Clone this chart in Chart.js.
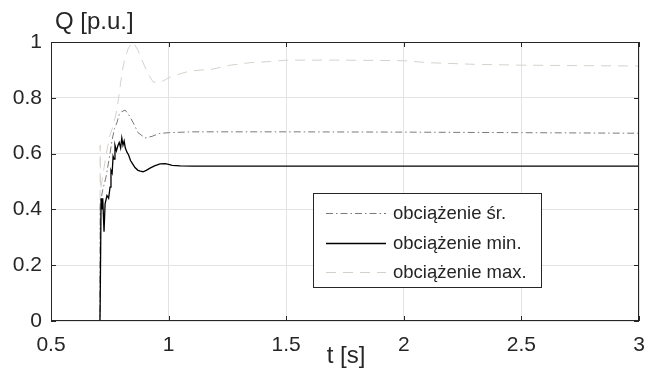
<!DOCTYPE html>
<html>
<head>
<meta charset="utf-8">
<script src="https://cdn.jsdelivr.net/npm/chart.js@4/dist/chart.umd.min.js"></script>
<style>
  html, body { margin: 0; padding: 0; background: #fff; }
  #wrap { width: 646px; height: 371px; }
</style>
</head>
<body>
<div id="wrap"><canvas id="my-chart" width="646" height="371"></canvas></div>
<script>
// axis ticks
var xTickValues = [0.5, 1, 1.5, 2, 2.5, 3];
var yTickValues = [0, 0.2, 0.4, 0.6, 0.8, 1];

// obciążenie min. (solid black)
var tMin = [0.5, 0.708, 0.709, 0.713, 0.716, 0.72, 0.7255, 0.73, 0.738, 0.745, 0.751, 0.755, 0.76, 0.764, 0.768, 0.772,
  0.778, 0.785, 0.79, 0.796, 0.801, 0.806, 0.811, 0.816, 0.823, 0.83, 0.838, 0.845, 0.857, 0.87, 0.88, 0.891,
  0.905, 0.921, 0.94, 0.964, 0.985, 1.0, 1.015, 1.05, 1.1, 1.5, 2.0, 2.5, 3.0];
var qMin = [0, 0, 0.05, 0.44, 0.40, 0.44, 0.32, 0.42, 0.45, 0.44, 0.48, 0.54, 0.53, 0.59, 0.58, 0.63,
  0.61, 0.63, 0.64, 0.62, 0.656, 0.63, 0.645, 0.62, 0.605, 0.595, 0.575, 0.566, 0.55, 0.54, 0.537, 0.535,
  0.54, 0.548, 0.556, 0.563, 0.564, 0.561, 0.558, 0.556, 0.555, 0.555, 0.555, 0.555, 0.555];

// obciążenie śr. (dash-dot grey)
var tAvg = [0.5, 0.708, 0.709, 0.72, 0.735, 0.745, 0.751, 0.76, 0.77, 0.78, 0.79, 0.8, 0.815, 0.83, 0.85, 0.87,
  0.9, 0.93, 0.96, 1.0, 1.1, 1.5, 2.0, 2.5, 3.0];
var qAvg = [0, 0, 0.42, 0.47, 0.52, 0.57, 0.60, 0.65, 0.69, 0.71, 0.74, 0.75, 0.756, 0.74, 0.71, 0.675,
  0.656, 0.662, 0.672, 0.675, 0.678, 0.678, 0.677, 0.675, 0.673];

// obciążenie max. (dashed light)
var tMax = [0.5, 0.708, 0.709, 0.711, 0.72, 0.735, 0.751, 0.765, 0.781, 0.802, 0.815, 0.83, 0.849, 0.87, 0.887,
  0.91, 0.934, 0.96, 0.985, 1.015, 1.091, 1.189, 1.262, 1.347, 1.432, 1.504, 1.75, 2.0, 2.1, 2.3, 2.5, 2.8, 3.0];
var qMax = [0, 0, 0.63, 0.47, 0.52, 0.6, 0.667, 0.70, 0.76, 0.89, 0.946, 0.98, 1.0, 0.97, 0.935,
  0.89, 0.857, 0.853, 0.864, 0.878, 0.896, 0.903, 0.917, 0.926, 0.93, 0.935, 0.935, 0.933, 0.926, 0.92, 0.917, 0.915, 0.914];

var axisColor = "#262626";
var fontFamily = '"Liberation Sans", Arial, sans-serif';

function toPoints(ts, qs) {
  return ts.map(function (t, i) { return { x: t, y: qs[i] }; });
}

// MATLAB-like frame: box, inward ticks, labels and the legend box
var framePlugin = {
  id: "frame",
  afterDraw: function (chart) {
    var ctx = chart.ctx;
    var a = chart.chartArea;
    var xs = chart.scales.x;
    var ys = chart.scales.y;
    ctx.save();

    ctx.strokeStyle = axisColor;
    ctx.lineWidth = 1;
    ctx.strokeRect(Math.round(a.left) + 0.5, Math.round(a.top) + 0.5,
      Math.round(a.right - a.left) - 1, Math.round(a.bottom - a.top) - 1);

    ctx.beginPath();
    xTickValues.forEach(function (v) {
      var px = Math.round(xs.getPixelForValue(v)) + 0.5;
      ctx.moveTo(px, a.bottom); ctx.lineTo(px, a.bottom - 5);
      ctx.moveTo(px, a.top); ctx.lineTo(px, a.top + 5);
    });
    yTickValues.forEach(function (v) {
      var py = Math.round(ys.getPixelForValue(v)) + 0.5;
      ctx.moveTo(a.left, py); ctx.lineTo(a.left + 5, py);
      ctx.moveTo(a.right, py); ctx.lineTo(a.right - 5, py);
    });
    ctx.stroke();

    ctx.fillStyle = axisColor;
    ctx.font = "24px " + fontFamily;
    ctx.textBaseline = "middle";
    ctx.textAlign = "left";
    ctx.fillText("Q [p.u.]", 55, 22);
    ctx.textAlign = "center";
    ctx.fillText("t [s]", 346, 356);

    // legend
    var bx = 313, by = 193, bw = 228, bh = 94;
    ctx.fillStyle = "#fff";
    ctx.fillRect(bx, by, bw, bh);
    ctx.strokeStyle = axisColor;
    ctx.strokeRect(bx + 0.5, by + 0.5, bw, bh);
    var rows = [213, 243, 272];
    var legendOrder = [1, 0, 2];
    ctx.font = "18.5px " + fontFamily;
    ctx.textAlign = "left";
    legendOrder.forEach(function (di, i) {
      var ds = chart.data.datasets[di];
      var y = rows[i] + 0.5;
      ctx.beginPath();
      ctx.setLineDash(ds.borderDash || []);
      ctx.strokeStyle = ds.borderColor;
      ctx.lineWidth = ds.borderWidth;
      ctx.moveTo(326, y); ctx.lineTo(386, y);
      ctx.stroke();
      ctx.setLineDash([]);
      ctx.fillStyle = axisColor;
      ctx.fillText(ds.label, 393, rows[i] + 1);
    });
    ctx.restore();
  }
};

var ctx = document.getElementById("my-chart").getContext("2d");
var myChart = new Chart(ctx, {
  type: "line",
  data: {
    datasets: [
      {
        label: "obciążenie min.",
        data: toPoints(tMin, qMin),
        borderColor: "#000000",
        borderWidth: 1.3,
        order: 0
      },
      {
        label: "obciążenie śr.",
        data: toPoints(tAvg, qAvg),
        borderColor: "#7a7a7a",
        borderWidth: 1,
        borderDash: [7, 3, 1.5, 3],
        order: 1
      },
      {
        label: "obciążenie max.",
        data: toPoints(tMax, qMax),
        borderColor: "#d6d2cb",
        borderWidth: 1,
        borderDash: [10, 7],
        order: 2
      }
    ]
  },
  options: {
    responsive: false,
    animation: false,
    layout: { padding: { top: 42, right: 7, left: 0, bottom: 0 } },
    elements: { point: { radius: 0 }, line: { tension: 0, fill: false } },
    plugins: { legend: { display: false }, tooltip: { enabled: false } },
    scales: {
      x: {
        type: "linear",
        min: 0.5,
        max: 3,
        afterBuildTicks: function (scale) {
          scale.ticks = xTickValues.map(function (v) { return { value: v }; });
        },
        afterFit: function (scale) {
          scale.height = 50;
          scale.paddingLeft = 0;
          scale.paddingRight = 0;
        },
        grid: { color: "#e3e3e3", drawTicks: false },
        border: { display: false },
        ticks: {
          color: axisColor,
          padding: 12,
          maxRotation: 0,
          callback: function (v) { return String(v); },
          font: { family: fontFamily, size: 21 }
        }
      },
      y: {
        min: 0,
        max: 1,
        afterBuildTicks: function (scale) {
          scale.ticks = yTickValues.map(function (v) { return { value: v }; });
        },
        afterFit: function (scale) {
          scale.width = 51;
          scale.paddingTop = 0;
          scale.paddingBottom = 0;
        },
        grid: { color: "#e3e3e3", drawTicks: false },
        border: { display: false },
        ticks: {
          color: axisColor,
          padding: 9,
          callback: function (v) { return String(v); },
          font: { family: fontFamily, size: 21 }
        }
      }
    }
  },
  plugins: [framePlugin]
});
</script>
</body>
</html>
